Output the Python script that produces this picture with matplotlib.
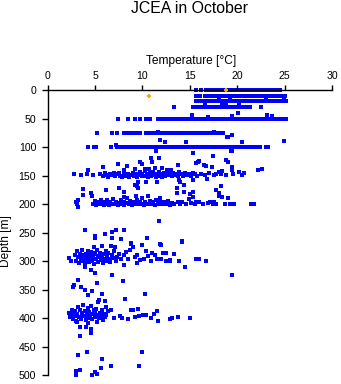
import matplotlib
matplotlib.use("Agg")
import matplotlib.pyplot as plt
import numpy as np

plt.rcParams['font.family'] = ['Liberation Sans', 'DejaVu Sans']

# ---- Data: regular sampling rows (nominal depth, temperatures) ----
row_depths = [0, 10, 20, 30, 50, 75, 100]
temps_0m = [15.7, 16.2, 16.7, 17.0, 17.3, 17.6, 17.9, 18.2, 18.5, 19.1, 19.4, 19.7,
            20.0, 20.3, 20.6, 20.9, 21.2, 21.5, 21.8, 22.1, 22.4, 22.7, 23.0, 23.3,
            23.6, 23.9, 24.2, 24.5]
temps_10m = [15.6, 16.1, 16.6, 16.9, 17.2, 17.5, 17.8, 18.1, 18.4, 18.7, 19.0, 19.3,
             19.6, 19.9, 20.2, 20.5, 20.8, 21.1, 21.4, 21.7, 22.0, 22.3, 22.6, 22.9,
             23.2, 23.5, 23.8, 24.1, 24.4, 24.7, 25.0]
temps_20m = [15.6, 16.0, 16.4, 16.7, 17.0, 17.3, 17.6, 17.9, 18.2, 18.5, 18.8, 19.1,
             19.4, 19.7, 20.0, 20.3, 20.6, 20.9, 21.2, 21.5, 21.8, 22.1, 22.4, 22.7,
             23.0, 23.3, 23.6, 23.9, 24.2, 24.5, 24.8, 25.1]
temps_30m = [13.3, 15.3, 15.6, 15.9, 16.2, 16.5, 16.8, 17.1, 17.4, 17.7, 18.0, 18.3,
             18.6, 18.9, 19.2, 19.5, 19.8, 20.1, 20.4, 20.7, 21.0, 21.3, 22.5]
temps_50m = [7.4, 8.5, 9.2, 9.7, 10.4, 10.8, 11.6, 12.0, 12.3, 12.6, 12.9, 13.2, 13.5,
             13.8, 14.1, 14.4, 14.7, 15.0, 15.3, 15.6, 15.9, 16.2, 16.5, 16.8, 17.1,
             17.4, 17.7, 18.0, 18.3, 18.6, 18.9, 19.2, 19.5, 19.8, 20.1, 20.4, 20.7,
             21.0, 21.3, 21.6, 21.9, 22.2, 22.5, 22.8, 23.1, 23.4, 23.7, 24.0, 24.3,
             24.6, 24.9, 25.1]
temps_75m = [5.2, 6.8, 7.3, 8.1, 8.5, 8.9, 9.2, 9.5, 9.7, 10.4, 10.7, 11.0, 11.3, 11.6,
             11.9, 12.2, 12.5, 12.8, 13.1, 13.4, 13.7, 14.0, 14.3, 14.6, 14.9, 15.2,
             15.5, 15.8, 16.1, 16.4, 16.7, 17.0, 17.3, 17.6, 17.9, 18.2, 18.5]
temps_100m = [4.3, 4.9, 5.1, 6.7, 7.3, 7.6, 7.9, 8.2, 8.5, 8.8, 9.1, 9.4, 9.7, 10.0,
              10.3, 10.6, 10.9, 11.2, 11.5, 11.8, 12.1, 12.4, 12.7, 13.0, 13.3, 13.6,
              13.9, 14.2, 14.5, 14.8, 15.1, 15.4, 15.7, 16.0, 16.3, 16.6, 16.9, 17.2,
              17.4, 17.8, 17.9, 18.3, 18.6, 18.8, 19.2, 19.7, 20.0, 20.2, 20.6, 20.9,
              21.2, 21.5, 21.8, 22.1, 22.4, 23.0, 23.2]

# small deviations around the upper rows
upper_extra_t = [18.1, 19.2, 23.0, 24.9, 16.6, 18.4, 18.8, 20.2, 15.2, 16.9, 19.5,
                 20.1, 23.1, 23.7, 18.9, 19.4, 24.9, 11.6, 17.6, 11.8, 12.4, 14.6,
                 15.3, 17.4, 19.4, 11.4, 20.5, 19.0, 7.2]
upper_extra_d = [18, 18, 18, 18, 27, 27, 27, 27, 44, 47, 46,
                 40, 43, 46, 82, 78, 89, 74, 74, 88, 92, 92,
                 111, 115, 107, 107, 92, 82, 97]

# ---- Scattered profiles ----
c150_t = [2.8, 3.5, 4.1, 4.8, 4.2, 5.8, 7.4, 8.4, 9.7, 9.9, 10.9, 11.0, 11.4, 10.7,
          11.7, 13.7, 15.6, 16.0, 16.5, 16.7, 17.3, 18.8, 19.0, 19.4, 18.4, 20.2,
          17.4, 19.3, 15.3, 15.9,
          5.5, 5.8, 6.0, 6.2, 6.4, 6.6, 6.8, 7.0, 7.1, 7.3, 7.5, 7.6, 7.8, 8.0, 8.1,
          8.3, 8.5, 8.6, 8.8, 9.0, 9.1, 9.3, 9.4, 9.6, 9.7, 9.9, 10.0, 10.2, 10.3,
          10.5, 10.6, 10.8, 10.9, 11.1, 11.2, 11.4, 11.5, 11.7, 11.8, 12.0, 12.1,
          12.3, 12.4, 12.6, 12.7, 12.9, 13.1, 13.2, 13.4, 13.6, 13.8, 13.9, 14.1,
          14.3, 14.5, 14.7, 14.9, 15.1, 15.3, 15.5, 15.8, 16.2, 16.6, 17.0, 17.5,
          17.8, 18.1, 18.3, 18.8, 19.5, 19.6, 20.5, 20.7, 22.2, 22.6,
          10.3, 12.1, 12.6, 11.3, 9.2, 8.0, 13.0,
          10.4, 11.5, 14.0, 15.3, 16.8, 13.9, 9.4]
c150_d = [148, 149, 148, 149, 140, 135, 130, 134, 126, 130, 120, 126, 107, 139,
          119, 132, 128, 125, 131, 134, 135, 122, 126, 135, 142, 143,
          116, 107, 111, 126,
          148, 150, 146, 149, 152, 147, 149, 145, 151, 148, 146, 150, 153, 148, 144,
          150, 147, 152, 149, 145, 150, 147, 153, 149, 144, 151, 147, 150, 142,
          148, 153, 146, 150, 144, 149, 152, 147, 143, 150, 148, 153,
          146, 150, 144, 149, 147, 151, 145, 149, 147, 150, 144, 148,
          151, 146, 149, 147, 150, 145, 148, 150, 147, 149, 146, 149,
          147, 143, 148, 149, 141, 148, 149, 145, 141, 139,
          138, 137, 140, 136, 139, 140, 141,
          162, 161, 162, 157, 156, 158, 168]

c200_t = [3.0, 3.2, 3.1, 3.2, 3.7, 3.7, 4.6, 4.7, 6.2,
          4.8, 5.0, 5.1, 5.3, 5.4, 5.6, 5.7, 5.9, 6.0, 6.2, 6.3, 6.5, 6.6, 6.8, 6.9,
          7.1, 7.2, 7.4, 7.5, 7.7, 7.8, 8.0, 8.1, 8.3, 8.4, 8.6, 8.7, 8.9, 9.0, 9.2,
          9.3, 9.4, 9.6, 9.7, 9.9, 10.0, 10.2, 10.3, 10.5, 10.6, 10.8, 10.9, 11.1,
          11.3, 11.4, 11.6, 11.8, 11.9, 12.1, 12.3, 12.5, 12.7, 12.9, 13.1, 13.3,
          13.6, 13.8, 14.0, 14.2, 14.4, 14.6, 14.9, 15.1, 15.3, 15.5, 15.7,
          16.0, 16.4, 16.9, 17.1, 17.4, 17.6, 17.8, 17.8, 18.1, 18.3, 18.4, 18.7,
          19.0, 19.2, 19.7, 21.5, 21.8,
          7.5, 8.0, 8.1, 9.2, 9.5, 9.5, 13.6, 14.4, 15.0, 15.3, 18.1]
c200_d = [196, 205, 199, 192, 174, 184, 181, 185, 176,
          199, 195, 202, 197, 200, 193, 199, 202, 196, 199, 193, 201, 197, 199, 191,
          200, 196, 202, 198, 193, 200, 196, 201, 198, 189, 199, 195, 202, 197, 199,
          186, 193, 200, 196, 199, 190, 201, 197, 199, 186, 195, 200, 197,
          202, 193, 199, 196, 190, 200, 197, 199, 195, 201, 198, 199,
          181, 196, 200, 197, 178, 199, 191, 198, 187, 200, 197,
          197, 200, 198, 196, 199, 196, 200, 176, 185, 168, 187, 200,
          190, 200, 199, 199, 199,
          172, 179, 187, 166, 161, 172, 171, 166, 182, 178, 180]

mid_t = [11.7, 3.9, 6.8, 7.2, 8.1, 5.0, 5.0, 6.0, 6.8, 7.7, 8.8, 10.5, 14.2, 11.9]
mid_d = [230, 245, 248, 245, 245, 256, 259, 253, 259, 261, 268, 259, 265, 270]

c300_t = [2.2, 2.5, 2.9, 3.1, 3.0, 3.2, 3.3, 3.4, 3.5, 3.6, 3.7, 3.8, 3.9, 4.0, 4.1,
          4.2, 4.3, 4.4, 4.5, 4.6, 4.7, 4.8, 4.9, 4.9, 5.0, 5.1, 5.2, 5.3, 5.4, 5.5,
          5.6, 5.7, 5.7, 5.8, 5.9, 6.0, 6.1, 6.2, 6.3, 6.4, 6.5, 6.6, 6.7, 6.8, 6.9,
          7.0, 7.1, 7.2, 7.3, 7.5, 7.7, 8.0, 8.1, 8.3, 8.5, 8.8, 9.0, 9.2, 9.4, 9.4,
          9.7, 10.0, 10.2, 10.6, 10.9, 11.3, 11.5, 12.0, 12.2, 12.5, 12.9, 13.9,
          14.2, 14.5, 15.7, 16.0, 16.7, 19.5, 3.9, 4.6, 5.0, 6.8, 7.9, 5.2,
          10.4, 11.0, 8.7, 13.3, 12.0, 12.9, 12.5, 4.4, 3.6, 5.3, 6.1, 4.0, 4.8]
c300_d = [294, 300, 289, 283, 299, 292, 303, 287, 297, 281, 300, 293, 306, 288, 298,
          283, 295, 302, 290, 284, 299, 293, 276, 305, 288, 296, 281, 301, 291, 286,
          298, 274, 293, 303, 288, 296, 282, 300, 291, 285, 297, 302, 274, 289, 295,
          283, 276, 299, 292, 287, 297, 306, 290, 284, 296, 270, 276, 293, 289, 304,
          298, 272, 296, 291, 299, 289, 296, 272, 285, 300, 300, 300,
          266, 311, 297, 297, 300, 324, 310, 315, 320, 324, 334, 339,
          283, 286, 280, 288, 297, 298, 285, 296, 290, 293, 287, 300, 285]

c350_t = [2.7, 2.8, 3.2, 3.5, 3.9, 4.3, 4.7, 5.7, 6.0, 8.2, 10.3, 5.4]
c350_d = [345, 341, 333, 346, 350, 359, 353, 357, 369, 366, 357, 368]

c400_t = [2.2, 2.4, 2.5, 2.6, 2.7, 2.8, 2.9, 3.0, 3.1, 3.2, 3.3, 3.4, 3.5, 3.6, 3.7,
          3.8, 3.9, 4.0, 4.1, 4.2, 4.3, 4.4, 4.5, 4.6, 4.7, 4.8, 4.9, 5.0, 5.1, 5.2,
          5.3, 5.4, 5.5, 5.6, 5.7, 5.8, 5.9, 6.0, 6.1, 6.2,
          6.4, 6.7, 7.0, 7.6, 7.8, 8.5, 8.8, 9.0, 9.2, 9.5, 9.6, 10.1, 10.4, 10.9,
          11.2, 11.5, 11.6, 12.9, 13.1, 13.7, 15.0,
          3.4, 4.0, 4.6, 4.6, 3.4, 3.1, 4.3, 5.2, 2.9, 3.6, 4.2, 5.0]
c400_d = [390, 398, 393, 385, 401, 395, 388, 404, 392, 380, 397, 386, 401, 391, 376,
          396, 388, 403, 393, 382, 399, 389, 395, 378, 402, 392, 386, 398, 383, 394,
          372, 400, 390, 396, 385, 403, 392, 398, 380, 395,
          388, 386, 400, 396, 399, 402, 386, 386, 398, 383, 396, 394, 394, 400,
          392, 387, 404, 402, 399, 397, 400,
          415, 416, 419, 426, 432, 406, 408, 406, 396, 394, 399, 391]

deep_t = [3.2, 4.1, 5.7, 5.6, 6.7, 10.0, 9.6, 3.0, 3.4, 3.0, 4.7, 5.0, 5.2]
deep_d = [464, 459, 471, 487, 483, 460, 484, 492, 491, 500, 500, 495, 497]

# highlighted (orange) observations
hl_t = [18.8, 10.7]
hl_d = [0, 10]

# tick labels
x_ticks = [0, 5, 10, 15, 20, 25, 30]
y_ticks = [0, 50, 100, 150, 200, 250, 300, 350, 400, 450, 500]

# ---- Figure ----
W, H = 341, 384
fig = plt.figure(figsize=(W / 100, H / 100), dpi=100)
ax = fig.add_axes([47.7 / W, 1 - 375.3 / H, (332 - 47.7) / W, (375.3 - 90) / H])

blue = '#0000FF'
ms = 9
row_lists = [temps_0m, temps_10m, temps_20m, temps_30m, temps_50m, temps_75m, temps_100m]
for d, tl in zip(row_depths, row_lists):
    ax.scatter(tl, [d] * len(tl), s=ms, marker='s', color=blue, linewidths=0, clip_on=False)
for tl, dl in [(upper_extra_t, upper_extra_d), (c150_t, c150_d), (c200_t, c200_d),
               (mid_t, mid_d), (c300_t, c300_d), (c350_t, c350_d),
               (c400_t, c400_d), (deep_t, deep_d)]:
    ax.scatter(tl, dl, s=ms, marker='s', color=blue, linewidths=0, clip_on=False)
ax.scatter(hl_t, hl_d, s=ms + 3, marker='P', color='#FFA500', linewidths=0,
           clip_on=False, zorder=5)

ax.set_xlim(0, 30)
ax.set_ylim(500, 0)
ax.set_xticks(x_ticks)
ax.set_yticks(y_ticks)
ax.xaxis.tick_top()
for side in ['right', 'bottom']:
    ax.spines[side].set_visible(False)
for side in ['left', 'top']:
    ax.spines[side].set_linewidth(1.0)
ax.tick_params(axis='x', direction='out', length=3.6, width=1.0, pad=2.8, labelsize=7.6)
ax.tick_params(axis='y', direction='out', length=4.3, width=1.0, pad=4.0, labelsize=7.6)

fig.text(190 / W, 1 - 13.3 / H, 'JCEA in October', ha='center', va='baseline', fontsize=11.4)
fig.text(190.8 / W, 1 - 64 / H, 'Temperature [°C]', ha='center', va='baseline', fontsize=8.6)
fig.text(6.5 / W, 1 - 241 / H, 'Depth [m]', ha='center', va='center', rotation=90, fontsize=8.6)

fig.savefig('out.png', dpi=100)
